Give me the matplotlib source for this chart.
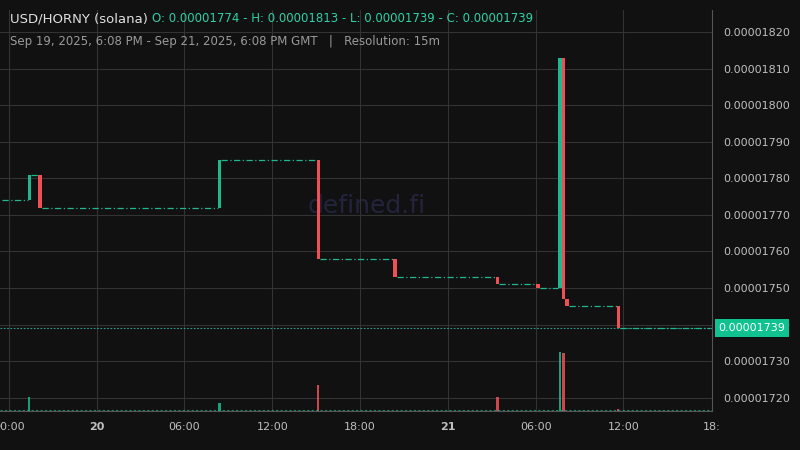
import numpy as np
import matplotlib.pyplot as plt
from matplotlib.ticker import FuncFormatter

# hours since Sep 19 18:00 GMT, prices in 1e-8 USD
candle_t = [1.4, 2.15, 14.4, 21.15, 26.4, 33.4, 36.15, 37.65, 37.9, 38.15, 41.65]
candle_open = [1774, 1781, 1772, 1785, 1758, 1753, 1751, 1750, 1813, 1747, 1745]
candle_close = [1781, 1772, 1785, 1758, 1753, 1751, 1750, 1813, 1747, 1745, 1739]
vol_t = [1.4, 14.4, 21.15, 33.4, 37.65, 37.9, 41.65]
vol = [3.5, 2.0, 6.5, 3.5, 14.7, 14.5, 0.5]
vol_up = [True, True, False, False, True, False, False]
last_price = 1739
t_start, t_end = -0.6, 48.05

bg = '#111111'
up, down = '#1fb78e', '#ef5057'
grid_c = '#333333'
txt_c = '#bfbfbf'

fig = plt.figure(figsize=(8, 4.5), dpi=100, facecolor=bg)
ax = fig.add_axes([0, 39 / 450, 712 / 800, 401 / 450], facecolor=bg)
vax = ax.twinx()
vax.set_ylim(0, 100)
vax.axis('off')

# flat segments between candles
seg_t = [t_start] + candle_t + [t_end]
seg_p = [candle_open[0]] + candle_close
for i in range(len(seg_p)):
    ax.hlines(seg_p[i], seg_t[i] + 0.12, seg_t[i + 1] - 0.12, color=up,
              lw=0.9, linestyles=(0, (5, 2, 1, 2)), zorder=2)

for t, o, c in zip(candle_t, candle_open, candle_close):
    col = up if c >= o else down
    ax.bar(t, c - o, bottom=o, width=0.24, color=col, zorder=3)

for t, v, u in zip(vol_t, vol, vol_up):
    vax.bar(t, v, width=0.15, color=(up if u else down), alpha=0.85)
vax.axhline(0.3, color=up, lw=0.8, ls=(0, (2, 2)), alpha=0.7)

ax.axhline(last_price, color='#2a9d8f', lw=0.8, ls=(0, (1.5, 1.5)), zorder=1)

ax.set_xlim(t_start, t_end)
ax.set_ylim(1716.4, 1826)
ax.yaxis.tick_right()
ax.set_yticks(np.arange(1720, 1830, 10))
ax.yaxis.set_major_formatter(FuncFormatter(lambda v, p: f"{v * 1e-8:.8f}"))
xt = np.arange(0, 48, 6)
ax.set_xticks(xt)
ax.set_xticklabels(['00:00', '20', '06:00', '12:00', '18:00', '21', '06:00', '12:00'])
for lab in ax.get_xticklabels():
    if lab.get_text() in ('20', '21'):
        lab.set_fontweight('bold')
ax.tick_params(colors=txt_c, labelsize=8, length=0, pad=8)
ax.tick_params(axis='y', pad=8)
ax.grid(True, color=grid_c, lw=0.8)
ax.set_axisbelow(True)
for s in ax.spines.values():
    s.set_visible(False)
ax.spines['right'].set_visible(True)
ax.spines['right'].set_color('#555555')
ax.spines['bottom'].set_visible(True)
ax.spines['bottom'].set_color('#555555')

# clipped 18:00 label on the right edge
ax.annotate('18:', xy=(48, 0), xycoords=('data', 'axes fraction'),
            xytext=(0, -8), textcoords='offset points', color=txt_c,
            fontsize=8, ha='center', va='top')
ax.text(1.009, (last_price - 1716.4) / (1826 - 1716.4), f"{last_price * 1e-8:.8f}",
        transform=ax.transAxes, color='white', fontsize=8, va='center', ha='left',
        zorder=10, bbox=dict(boxstyle='square,pad=0.35', fc='#0fc28f', ec='none'))

ax.text(0.515, 0.51, 'defined.fi', transform=ax.transAxes, fontsize=18,
        color='#24233d', ha='center', va='center', zorder=0)

fig.text(10 / 800, 1 - 19 / 450, 'USD/HORNY (solana)', color='#e0e0e0', fontsize=9.5,
         va='center')
fig.text(152 / 800, 1 - 19 / 450,
         'O: 0.00001774 - H: 0.00001813 - L: 0.00001739 - C: 0.00001739',
         color='#2fd1a6', fontsize=8.5, va='center')
fig.text(10 / 800, 1 - 42 / 450,
         'Sep 19, 2025, 6:08 PM - Sep 21, 2025, 6:08 PM GMT   |   Resolution: 15m',
         color='#9a9a9a', fontsize=8.5, va='center')

fig.savefig('out.png', dpi=100, facecolor=bg)
